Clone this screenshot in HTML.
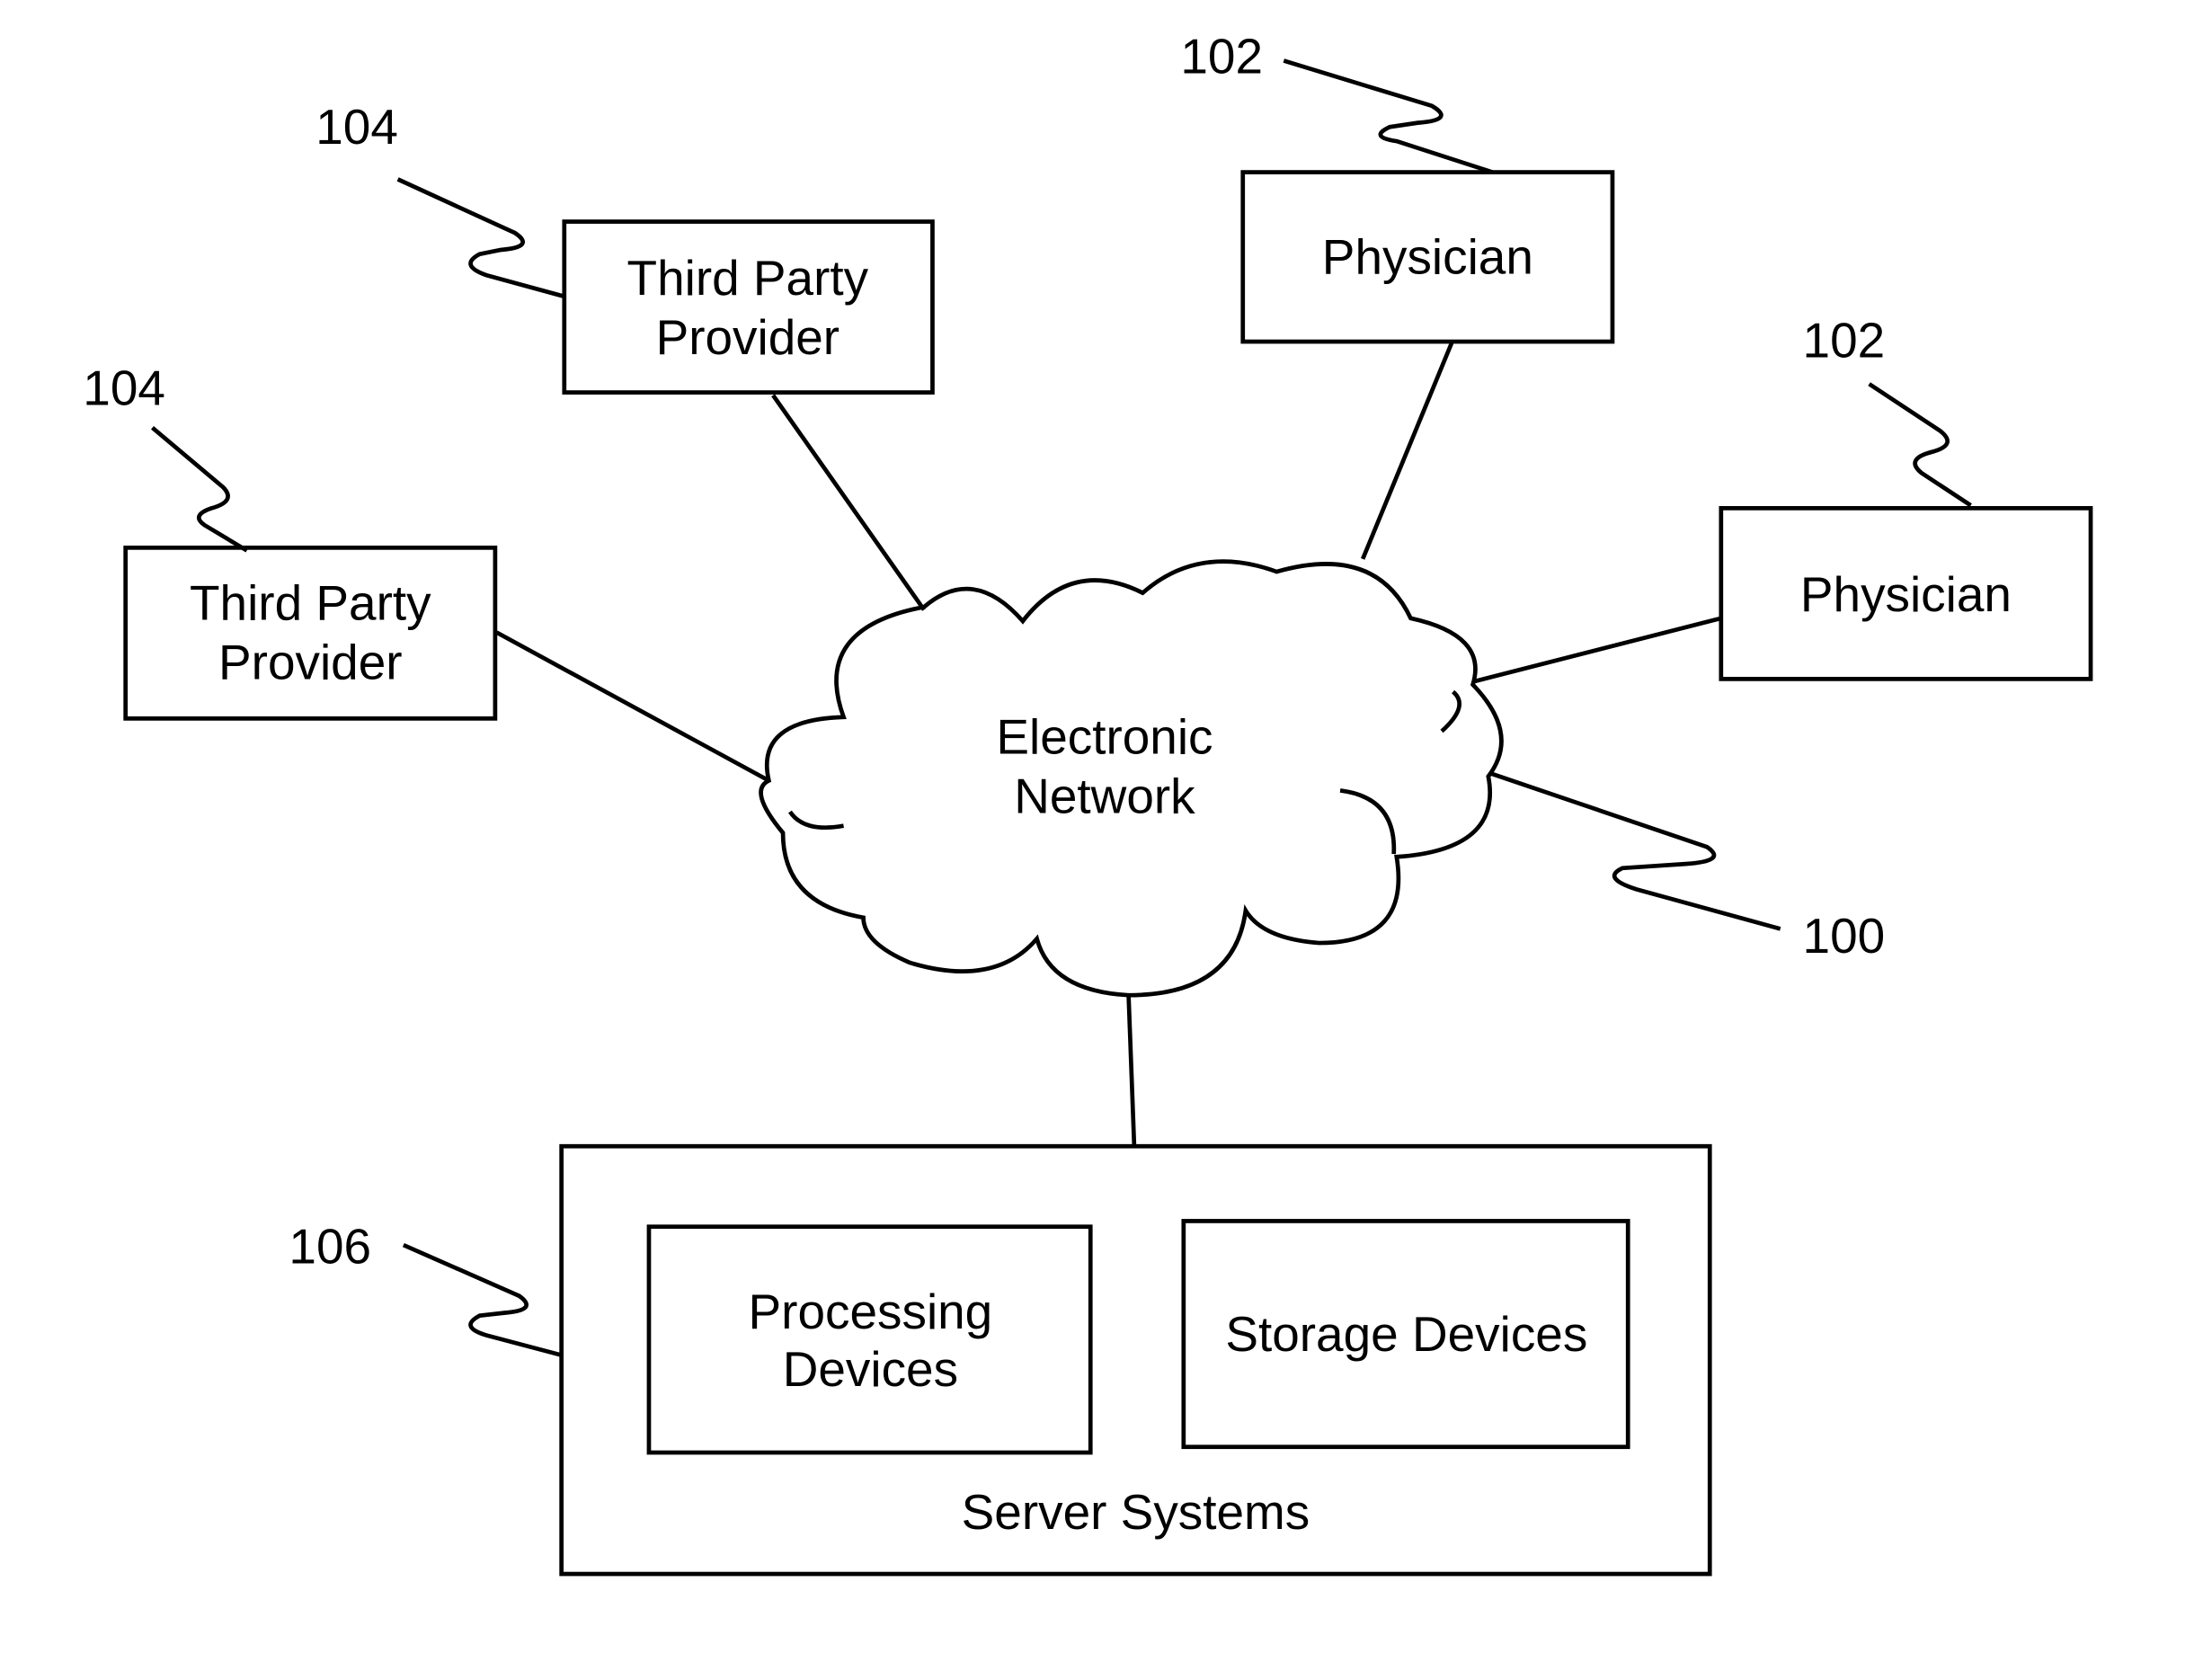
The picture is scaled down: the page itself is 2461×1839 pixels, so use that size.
<!DOCTYPE html>
<html><head><meta charset="utf-8"><style>
html,body{margin:0;padding:0;background:#fff;}
svg{display:block;}
text{font-family:"Liberation Sans",Arial,sans-serif;font-size:35px;fill:#000;text-anchor:middle;}
</style></head><body>
<svg width="2461" height="1839" viewBox="0 0 1568 1171" preserveAspectRatio="none" xmlns="http://www.w3.org/2000/svg">
<g fill="none" stroke="#000" stroke-width="3">
<rect x="400" y="157" width="261" height="121"/>
<rect x="89" y="388" width="262" height="121"/>
<rect x="881" y="122" width="262" height="120"/>
<rect x="1220" y="360" width="262" height="121"/>
<rect x="398" y="812" width="814" height="303"/>
<rect x="460" y="869" width="313" height="160"/>
<rect x="839" y="865" width="315" height="160"/>
<path d="M598,508 Q575,445 655,430 Q690,400 725,440 Q760,395 810,420 Q850,385 905,405 Q975,385 1000,438 Q1055,450 1044,485 Q1078,520 1055,550 Q1065,602 990,607 Q1000,668 935,668 Q895,665 883,645 Q875,705 800,705 Q745,702 735,665 Q705,700 645,682 Q612,668 612,650 Q555,640 555,590 Q530,560 545,553 Q535,510 598,508 Z"/>
<path d="M1022,518 Q1042,500 1030,490" />
<path d="M950,560 Q990,565 988,605" />
<path d="M598,585 Q570,590 560,575" />
<line x1="548" y1="280" x2="655" y2="432"/>
<line x1="352" y1="448" x2="545" y2="553"/>
<line x1="1029" y1="243" x2="966" y2="396"/>
<line x1="1220" y1="438" x2="1044" y2="483"/>
<line x1="800" y1="705" x2="804" y2="812"/>
<path d="M1057,548 L1210,600 Q1225,610 1195,612 L1150,615 Q1135,622 1160,630 L1262,658"/>
<path d="M282,127 L365,165 Q380,175 355,177 L340,180 Q325,188 345,195 L400,210"/>
<path d="M108,303 L158,345 Q168,355 150,360 Q135,365 145,372 L175,390"/>
<path d="M910,43 L1015,75 Q1032,85 1005,87 L985,90 Q970,97 990,100 L1058,122"/>
<path d="M1325,272 L1375,305 Q1388,315 1370,320 Q1350,325 1362,335 L1397,358"/>
<path d="M286,882 L368,918 Q382,928 358,930 L340,932 Q325,940 345,946 L398,960"/>
</g>
<text x="530" y="209">Third Party</text>
<text x="530" y="251">Provider</text>
<text x="220" y="439">Third Party</text>
<text x="220" y="481">Provider</text>
<text x="1012" y="194">Physician</text>
<text x="1351" y="433">Physician</text>
<text x="783" y="534">Electronic</text>
<text x="783" y="576">Network</text>
<text x="617" y="941">Processing</text>
<text x="617" y="982">Devices</text>
<text x="997" y="957">Storage Devices</text>
<text x="805" y="1083">Server Systems</text>
<text x="253" y="102">104</text>
<text x="88" y="287">104</text>
<text x="866" y="52">102</text>
<text x="1307" y="253">102</text>
<text x="1307" y="675">100</text>
<text x="234" y="895">106</text>
</svg>
</body></html>
